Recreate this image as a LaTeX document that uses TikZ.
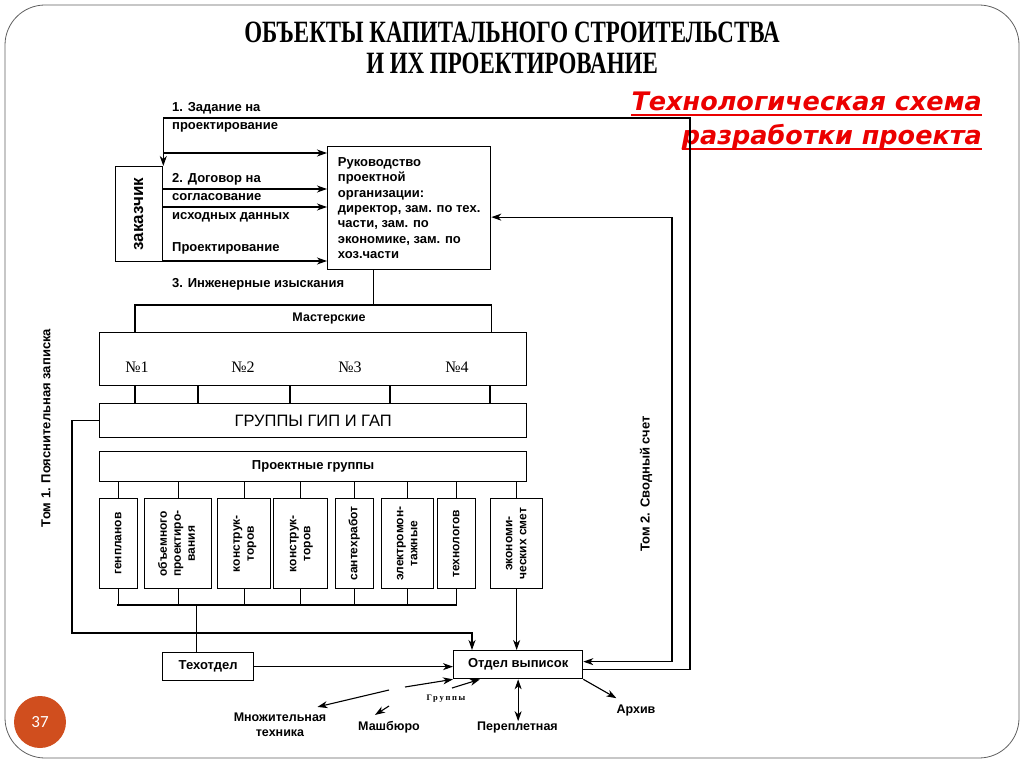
\documentclass[tikz,border=0pt]{standalone}
\usepackage{fontspec}
\usepackage{graphicx}
\setmainfont{Liberation Sans}
\newfontfamily\titlefont[FakeStretch=0.74]{Liberation Serif}
\newfontfamily\numfont{Liberation Serif}
\newfontfamily\smallserif[LetterSpace=20]{Liberation Serif}
\newfontfamily\redfont{DejaVu Sans}
\newfontfamily\pagefont{Carlito}
\usetikzlibrary{arrows.meta,calc}

\definecolor{slidered}{RGB}{235,0,0}
\definecolor{pagedot}{RGB}{208,78,30}
\definecolor{framegray}{RGB}{95,95,95}

\newcommand{\lblfont}{\bfseries\fontsize{13}{15.3}\selectfont}
\newcommand{\grpfont}{\bfseries\fontsize{12}{14}\selectfont}
\newcommand{\botfont}{\bfseries\fontsize{12.5}{15}\selectfont}
\newcommand{\vtext}[1]{\rotatebox{90}{\begin{tabular}{@{}c@{}}#1\end{tabular}}}

\begin{document}
\begin{tikzpicture}[x=1pt, y=-1pt,
    box/.style={draw, line width=1.3, inner sep=0, anchor=north west},
    grp/.style={box, minimum height=90, font=\grpfont},
    lbl/.style={inner sep=0, font=\lblfont},
    arr/.style={-{Stealth[length=10pt,width=7pt,inset=3pt]}, line width=1.1},
    arr2/.style={{Stealth[length=10pt,width=7pt,inset=3pt]}-{Stealth[length=10pt,width=7pt,inset=3pt]}, line width=1.1},
    link/.style={line width=1.1}
]

\useasboundingbox (0,0) rectangle (1024,767);

% Рамка слайда
\draw[framegray, line width=0.8, rounded corners=40pt] (5,5) rectangle (1019,758);
\node[circle, fill=pagedot, minimum size=52, inner sep=0, text=white, font=\pagefont\fontsize{17}{20}\selectfont] (page) at (40,722) {37};

% Заголовки
\node[align=center, font=\titlefont\bfseries\fontsize{31}{31}\selectfont] (title) at (512,48) {ОБЪЕКТЫ КАПИТАЛЬНОГО СТРОИТЕЛЬСТВА\\И ИХ ПРОЕКТИРОВАНИЕ};
\node[anchor=base east, inner sep=0, text=slidered, font=\redfont\bfseries\itshape\fontsize{25.5}{30}\selectfont] (sub1) at (982,111) {Технологическая схема};
\node[anchor=base east, inner sep=0, text=slidered, font=\redfont\bfseries\itshape\fontsize{25.5}{30}\selectfont] (sub2) at (982,145) {разработки проекта};
\draw[slidered, line width=2.2] ($(sub1.base west)+(0,4)$) -- ($(sub1.base east)+(0,4)$);
\draw[slidered, line width=2.2] ($(sub2.base west)+(0,4)$) -- ($(sub2.base east)+(0,4)$);

% Заказчик и руководство
\node[box, minimum width=47, minimum height=95, font=\bfseries\fontsize{17}{20}\selectfont] (client) at (115,166) {\vtext{заказчик}};
\node[box, minimum width=163, minimum height=123, align=left, font=\lblfont] (head) at (327,146) {Руководство\\проектной\\организации:\\директор, зам. по тех.\\части, зам. по\\экономике, зам. по\\хоз.части};

\node[lbl, anchor=north west, align=left, font=\bfseries\fontsize{13}{18}\selectfont] (task) at (172,102) {1. Задание на\\проектирование};
\node[lbl, anchor=north west, align=left, font=\bfseries\fontsize{13}{18.5}\selectfont] (deal) at (172,173) {2. Договор на\\согласование\\исходных данных};
\node[lbl, anchor=north west] (design) at (172,242) {Проектирование};
\node[lbl, anchor=north west] (survey) at (172,278) {3. Инженерные изыскания};

% Мастерские
\node[lbl, font=\bfseries\fontsize{12.5}{15}\selectfont] (mast) at (329,318) {Мастерские};
\node[box, minimum width=427, minimum height=53] (ws) at (99,332) {};
\node[font=\numfont\fontsize{16}{18}\selectfont] (n1) at (137,367) {№1};
\node[font=\numfont\fontsize{16}{18}\selectfont] (n2) at (243,367) {№2};
\node[font=\numfont\fontsize{16}{18}\selectfont] (n3) at (350,367) {№3};
\node[font=\numfont\fontsize{16}{18}\selectfont] (n4) at (457,367) {№4};
\node[box, minimum width=427, minimum height=34, font=\fontsize{16.5}{18}\selectfont] (gip) at (99,403) {ГРУППЫ ГИП И ГАП};
\node[box, minimum width=427, minimum height=30, font=\bfseries\fontsize{13}{15}\selectfont] (pg) at (99,451) {Проектные группы};

% Проектные группы
\node[grp, minimum width=38] (g1) at (99,498) {\vtext{генпланов}};
\node[grp, minimum width=67] (g2) at (144,498) {\vtext{объемного\\проектиро-\\вания}};
\node[grp, minimum width=53] (g3) at (217,498) {\vtext{конструк-\\торов}};
\node[grp, minimum width=54] (g4) at (273,498) {\vtext{конструк-\\торов}};
\node[grp, minimum width=38] (g5) at (335,498) {\vtext{сантехработ}};
\node[grp, minimum width=52] (g6) at (381,498) {\vtext{электромон-\\тажные}};
\node[grp, minimum width=38] (g7) at (437,498) {\vtext{технологов}};
\node[grp, minimum width=52] (g8) at (490,498) {\vtext{экономи-\\ческих смет}};

% Отделы
\node[box, minimum width=91, minimum height=28, font=\lblfont] (tech) at (162,652) {Техотдел};
\node[box, minimum width=129, minimum height=28, font=\lblfont] (out) at (453,650) {Отдел выписок};

\node[lbl, align=center, font=\botfont] (mult) at (280,725) {Множительная\\техника};
\node[lbl, font=\botfont] (mach) at (389,727) {Машбюро};
\node[lbl, font=\botfont] (bind) at (517.5,727) {Переплетная};
\node[lbl, font=\botfont] (arch) at (636,710) {Архив};
\node[font=\smallserif\bfseries\fontsize{8.5}{10}\selectfont, inner sep=0] (grtxt) at (446,699) {Группы};

\node[lbl, rotate=90] (vol1) at (46,428) {Том 1. Пояснительная записка};
\node[lbl, rotate=90] (vol2) at (646,484) {Том 2. Сводный счет};

% Вспомогательные точки
\coordinate (uppr) at (690,118);
\coordinate (rightbus) at (672,400);
\coordinate (leftbus) at (72,633);
\coordinate (bus) at (117,605);
\coordinate (grpA) at (405,687);
\coordinate (grpB) at (452,688);
\coordinate (multA) at (389,690);
\coordinate (machA) at (389,706);

% Связи
\draw[arr] ($(out.east)+(0,5)$) -| (uppr) -| (client.north east);
\foreach \y in {153,189,207,261}
    \draw[arr] (client.east |- 0,\y) -- (head.west |- 0,\y);
\draw[arr2] ($(head.east)+(0,9)$) -| (rightbus) |- ($(out.east)+(0,-3)$);

\draw[link] ($(head.south)+(-36,0)$) -- ++(0,36);
\draw[link] ($(ws.north west)+(36,0)$) -- ++(0,-27) -| ($(ws.north east)+(-36,0)$);
\foreach \x in {135,198,290,390,490}
    \draw[link] (ws.south -| \x,0) -- (gip.north -| \x,0);
\draw[arr] (gip.west) -| (leftbus) -| ($(out.north west)+(19,0)$);

\foreach \g in {g1,g2,g3,g4,g5,g6,g7,g8}
    \draw[link] (\g.north) -- (\g.north |- pg.south);
\foreach \g in {g1,g2,g3,g4,g5,g6,g7}
    \draw[link] (\g.south) -- (\g.south |- bus);
\draw[link] (bus) -- (g7.south |- bus);
\draw[link] (tech.north) ++(-12,0) -- ++(0,-47);
\draw[arr] (g8.south) -- (g8.south |- out.north);
\draw[arr] (tech.east) -- (tech.east -| out.west);

\draw[arr] (out.south east) -- ($(arch.north west)+(0,-6)$);
\draw[arr2] (out.south) -- (out.south |- bind.north);
\draw[arr] (grpA) -- (out.south west);
\draw[arr] (grpB) -- ($(out.south west)+(27,0)$);
\draw[arr] (multA) -- ($(mult.north east)+(-9,-6)$);
\draw[arr] (machA) -- ($(mach.north west)+(17,-6)$);

\end{tikzpicture}
\end{document}
